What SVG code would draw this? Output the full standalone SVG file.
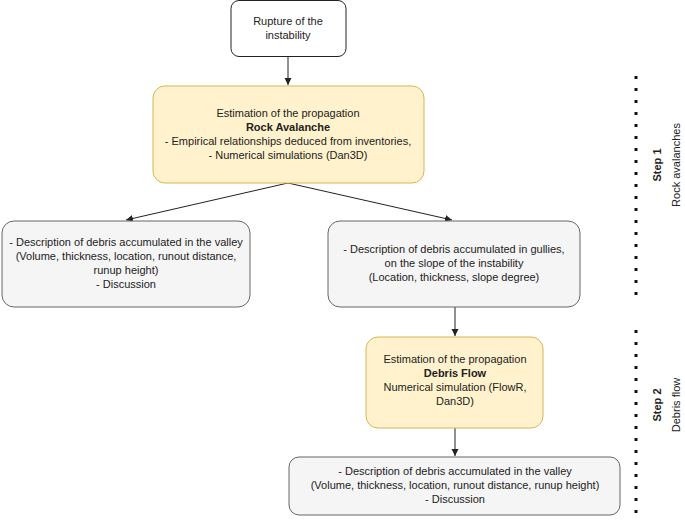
<svg xmlns="http://www.w3.org/2000/svg" width="685" height="522" viewBox="0 0 685 522">
<style>
text{font-family:"Liberation Sans",Arial,sans-serif;font-size:11px;fill:#222;text-anchor:middle}
.w{fill:#fff;stroke:#222;stroke-width:1}
.y{fill:#fff2cc;stroke:#d6b656;stroke-width:1}
.g{fill:#f5f5f5;stroke:#666;stroke-width:1}
.c{stroke:#222;stroke-width:1;fill:none}
.d{stroke:#111;stroke-width:3;stroke-dasharray:3 9;fill:none}
b{font-weight:bold}
</style>
<defs><marker id="a" markerWidth="8" markerHeight="8" refX="7" refY="4" orient="auto" markerUnits="userSpaceOnUse"><path d="M0,0.5 L7,4 L0,7.5 Z" fill="#222"/></marker></defs>
<g id="connectors">
<path class="c" d="M288,57 V85" marker-end="url(#a)"/>
<path class="c" d="M288,183 L126,220" marker-end="url(#a)"/>
<path class="c" d="M288,183 L452,220" marker-end="url(#a)"/>
<path class="c" d="M455,307 V336" marker-end="url(#a)"/>
<path class="c" d="M455,428 V456" marker-end="url(#a)"/>
</g>
<g id="n1"><rect class="w" x="231" y="0.5" width="115" height="56" rx="8"/><text x="288" y="25">Rupture of the</text><text x="288" y="39">instability</text></g>
<g id="n2"><rect class="y" x="153" y="86" width="271" height="97" rx="12"/>
<text x="288" y="117">Estimation of the propagation</text>
<text x="288" y="131" font-weight="bold">Rock Avalanche</text>
<text x="288" y="145">- Empirical relationships deduced from inventories,</text>
<text x="288" y="159">- Numerical simulations (Dan3D)</text></g>
<g id="n3"><rect class="g" x="2" y="221" width="248" height="86" rx="12"/>
<text x="126" y="246">- Description of debris accumulated in the valley</text>
<text x="126" y="260">(Volume, thickness, location, runout distance,</text>
<text x="126" y="274">runup height)</text>
<text x="126" y="288">- Discussion</text></g>
<g id="n4"><rect class="g" x="328" y="221" width="252" height="86" rx="12"/>
<text x="454" y="253">- Description of debris accumulated in gullies,</text>
<text x="454" y="267">on the slope of the instability</text>
<text x="454" y="281">(Location, thickness, slope degree)</text></g>
<g id="n5"><rect class="y" x="366" y="337" width="177" height="91" rx="12"/>
<text x="455" y="363">Estimation of the propagation</text>
<text x="455" y="377" font-weight="bold">Debris Flow</text>
<text x="455" y="391">Numerical simulation (FlowR,</text>
<text x="455" y="405">Dan3D)</text></g>
<g id="n6"><rect class="g" x="289" y="457" width="331" height="58" rx="10"/>
<text x="455" y="475">- Description of debris accumulated in the valley</text>
<text x="455" y="489">(Volume, thickness, location, runout distance, runup height)</text>
<text x="455" y="503">- Discussion</text></g>
<g id="steps">
<path class="d" d="M636,76 V300"/>
<path class="d" d="M636,330 V520"/>
<text transform="translate(661,165) rotate(-90)" font-size="14" font-weight="bold">Step 1</text>
<text transform="translate(680,165) rotate(-90)" font-size="14">Rock avalanches</text>
<text transform="translate(661,405) rotate(-90)" font-size="14" font-weight="bold">Step 2</text>
<text transform="translate(680,405) rotate(-90)" font-size="14">Debris flow</text>
</g>
</svg>
